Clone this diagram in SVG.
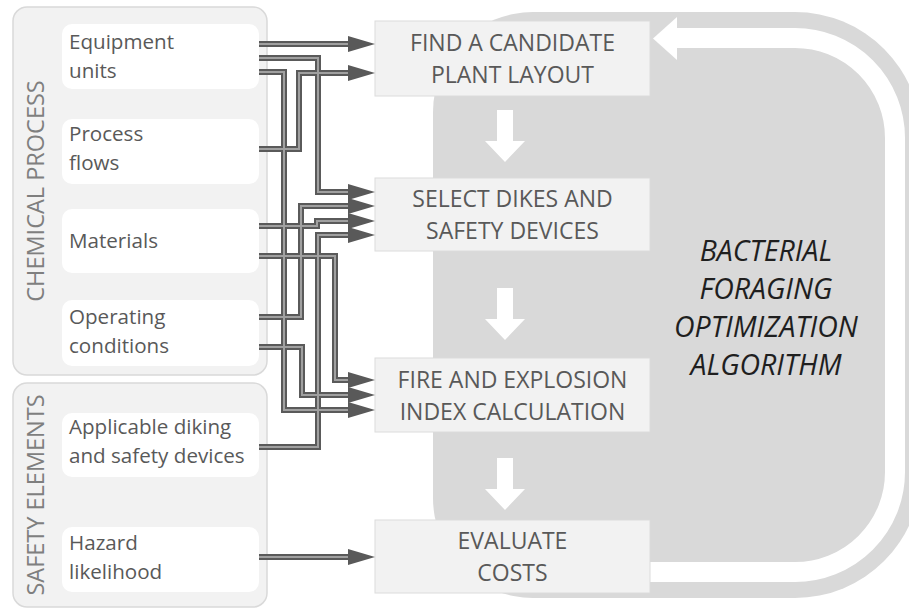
<svg xmlns="http://www.w3.org/2000/svg" width="909" height="609" viewBox="0 0 909 609">
<style>
.panel{fill:#f2f2f2;stroke:#d9d9d9;stroke-width:1.5}
.item{fill:#ffffff}
.itxt{font-family:"Open Sans","Noto Sans",sans-serif;font-size:20.6px;fill:#595959}
.vlab{font-family:"Open Sans","Noto Sans",sans-serif;font-size:23.5px;fill:#7f7f7f;text-anchor:middle}
.step{fill:#f2f2f2;stroke:#dcdcdc;stroke-width:1}
.stxt{font-family:"Open Sans","Noto Sans",sans-serif;font-size:23px;fill:#595959;text-anchor:middle}
.algo{font-family:"Open Sans","Noto Sans",sans-serif;font-size:28.5px;font-style:italic;fill:#1f1f1f;text-anchor:middle}
.cout{fill:none;stroke:#5a5a5a;stroke-width:6;marker-end:url(#ah)}
.cin{fill:none;stroke:#a0a0a0;stroke-width:2}
.warrow{fill:#ffffff}
</style>
<defs>
<marker id="ah" markerUnits="userSpaceOnUse" viewBox="0 -8 27 16" refX="0" refY="0" markerWidth="27" markerHeight="16" orient="auto">
<path d="M0,-8 L27,0 L0,8 Z" fill="#595959"/>
</marker>
</defs>

<!-- algorithm background loop -->
<g id="algorithm">
<path d="M533,12 H795 A126,126 0 0 1 921,138 V472 A126,126 0 0 1 795,598 H533 A100,100 0 0 1 433,498 V112 A100,100 0 0 1 533,12 Z" fill="#d9d9d9"/>
<path d="M650,572 H795 A100,100 0 0 0 895,472 V138 A100,100 0 0 0 795,38 H676" fill="none" stroke="#ffffff" stroke-width="20"/>
<polygon points="677,17 653,38.5 677,60" fill="#ffffff"/>
<polygon class="warrow" points="497,110 513,110 513,141 525,141 505,162 485,141 497,141"/>
<polygon class="warrow" points="497,288 513,288 513,319 525,319 505,340 485,319 497,319"/>
<polygon class="warrow" points="497,458 513,458 513,489 525,489 505,510 485,489 497,489"/>
<text class="algo" x="766" y="261">BACTERIAL</text>
<text class="algo" x="766" y="299">FORAGING</text>
<text class="algo" x="766" y="337">OPTIMIZATION</text>
<text class="algo" x="766" y="375">ALGORITHM</text>
</g>

<!-- left panels -->
<g id="chemical-process">
<rect class="panel" x="13" y="7" width="254" height="368" rx="14"/>
<text class="vlab" transform="translate(44,191) rotate(-90)">CHEMICAL PROCESS</text>
</g>
<g id="safety-elements">
<rect class="panel" x="13" y="383" width="254" height="224" rx="14"/>
<text class="vlab" transform="translate(44,495) rotate(-90)">SAFETY ELEMENTS</text>
</g>

<g id="equipment-units">
<rect class="item" x="62" y="24" width="197" height="65" rx="10"/>
<text class="itxt" x="69" y="49">Equipment</text>
<text class="itxt" x="69" y="78">units</text>
</g>
<g id="process-flows">
<rect class="item" x="62" y="119" width="197" height="65" rx="10"/>
<text class="itxt" x="69" y="141">Process</text>
<text class="itxt" x="69" y="170">flows</text>
</g>
<g id="materials">
<rect class="item" x="62" y="209" width="197" height="64" rx="10"/>
<text class="itxt" x="69" y="248">Materials</text>
</g>
<g id="operating-conditions">
<rect class="item" x="62" y="300" width="197" height="66" rx="10"/>
<text class="itxt" x="69" y="324">Operating</text>
<text class="itxt" x="69" y="353">conditions</text>
</g>
<g id="applicable-diking">
<rect class="item" x="62" y="413" width="197" height="64" rx="10"/>
<text class="itxt" x="69" y="434">Applicable diking</text>
<text class="itxt" x="69" y="463">and safety devices</text>
</g>
<g id="hazard-likelihood">
<rect class="item" x="62" y="527" width="197" height="65" rx="10"/>
<text class="itxt" x="69" y="550">Hazard</text>
<text class="itxt" x="69" y="579">likelihood</text>
</g>

<!-- step boxes -->
<g id="find-layout">
<rect class="step" x="375" y="21" width="275" height="75"/>
<text class="stxt" x="512.5" y="51">FIND A CANDIDATE</text>
<text class="stxt" x="512.5" y="83">PLANT LAYOUT</text>
</g>
<g id="select-dikes">
<rect class="step" x="375" y="178" width="275" height="73"/>
<text class="stxt" x="512.5" y="207">SELECT DIKES AND</text>
<text class="stxt" x="512.5" y="239">SAFETY DEVICES</text>
</g>
<g id="fire-explosion">
<rect class="step" x="375" y="358" width="275" height="74"/>
<text class="stxt" x="512.5" y="388">FIRE AND EXPLOSION</text>
<text class="stxt" x="512.5" y="420">INDEX CALCULATION</text>
</g>
<g id="evaluate-costs">
<rect class="step" x="375" y="520" width="275" height="73"/>
<text class="stxt" x="512.5" y="549">EVALUATE</text>
<text class="stxt" x="512.5" y="581">COSTS</text>
</g>

<!-- connectors -->
<g id="connectors">
<g id="connector-outlines">
<path class="cout" d="M259,44 H348"/>
<path class="cout" d="M259,58 H318 V192 H348"/>
<path class="cout" d="M259,72 H284 V410 H348"/>
<path class="cout" d="M259,149 H299 V73 H348"/>
<path class="cout" d="M259,226 H317 V221 H348"/>
<path class="cout" d="M259,256 H335 V380 H348"/>
<path class="cout" d="M259,317 H301 V206 H348"/>
<path class="cout" d="M259,347 H302 V395 H348"/>
<path class="cout" d="M259,447 H318 V235 H348"/>
<path class="cout" d="M259,557 H348"/>
</g>
<g id="connector-cores">
<path class="cin" d="M259,44 H348"/>
<path class="cin" d="M259,58 H318 V192 H348"/>
<path class="cin" d="M259,72 H284 V410 H348"/>
<path class="cin" d="M259,149 H299 V73 H348"/>
<path class="cin" d="M259,226 H317 V221 H348"/>
<path class="cin" d="M259,256 H335 V380 H348"/>
<path class="cin" d="M259,317 H301 V206 H348"/>
<path class="cin" d="M259,347 H302 V395 H348"/>
<path class="cin" d="M259,447 H318 V235 H348"/>
<path class="cin" d="M259,557 H348"/>
</g>
</g>
</svg>
